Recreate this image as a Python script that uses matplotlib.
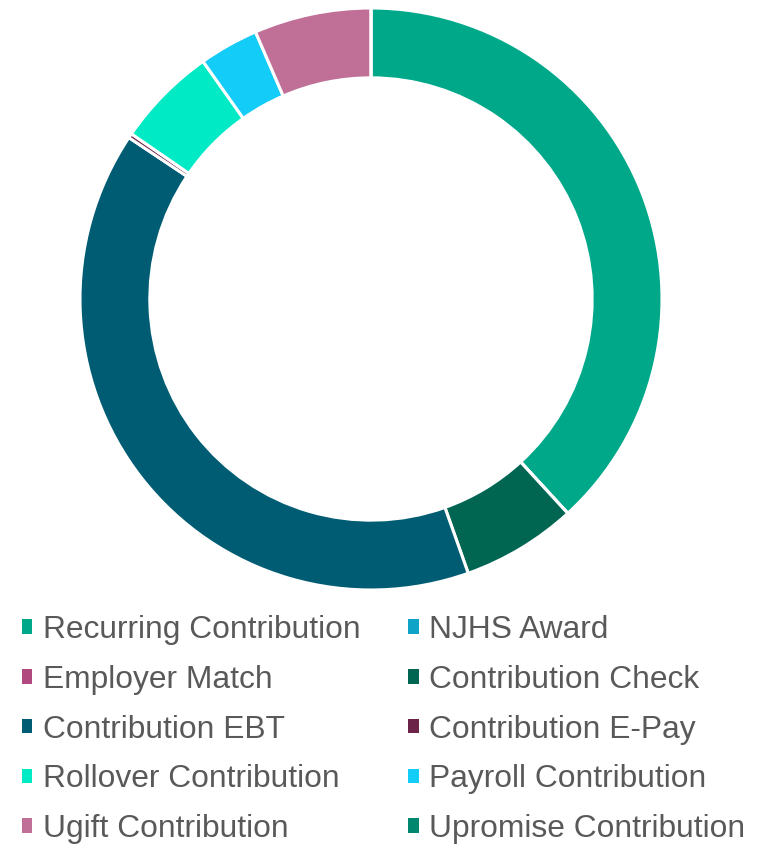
import matplotlib
matplotlib.use("Agg")
import matplotlib.pyplot as plt
from matplotlib.patches import Patch

plt.rcParams["font.family"] = ["Liberation Sans", "DejaVu Sans"]

# share of contributions by source (percent)
labels = ["Recurring Contribution", "NJHS Award", "Employer Match",
          "Contribution Check", "Contribution EBT", "Contribution E-Pay",
          "Rollover Contribution", "Payroll Contribution",
          "Ugift Contribution", "Upromise Contribution"]
shares = [38.2, 0.0, 0.0, 6.4, 39.8, 0.25, 5.6, 3.3, 6.5, 0.0]
colors = ["#00A88A", "#0FA3C8", "#B04A7E", "#006652", "#005C73",
          "#6B2447", "#00EAC6", "#13CCF7", "#C06F96", "#00876F"]

W, H = 758, 844
fig = plt.figure(figsize=(W / 100, H / 100), dpi=100)

# donut: centre (371, 299) px, outer radius 291 px
cx, cy, r = 371, 299, 291
ax = fig.add_axes([(cx - r) / W, (H - cy - r) / H, 2 * r / W, 2 * r / H])
ax.pie(shares, colors=colors, startangle=90, counterclock=False,
       wedgeprops=dict(width=0.24, edgecolor="white", linewidth=2.2))
ax.set_xlim(-1, 1)
ax.set_ylim(-1, 1)
ax.set_aspect("equal")
ax.axis("off")

# legend, row-major in two columns
handles = [Patch(facecolor=c, edgecolor="none", label=l)
           for l, c in zip(labels, colors)]
order = [0, 2, 4, 6, 8, 1, 3, 5, 7, 9]
fig.legend([handles[i] for i in order], [labels[i] for i in order],
           loc="upper left", bbox_to_anchor=(22 / W, 0.2712), ncol=2,
           frameon=False, fontsize=22.9, labelcolor="#595959",
           handlelength=0.33, handleheight=0.33, handletextpad=0.33,
           columnspacing=1.49, labelspacing=0.62, borderpad=0,
           borderaxespad=0)

fig.savefig("out.png", dpi=100)
